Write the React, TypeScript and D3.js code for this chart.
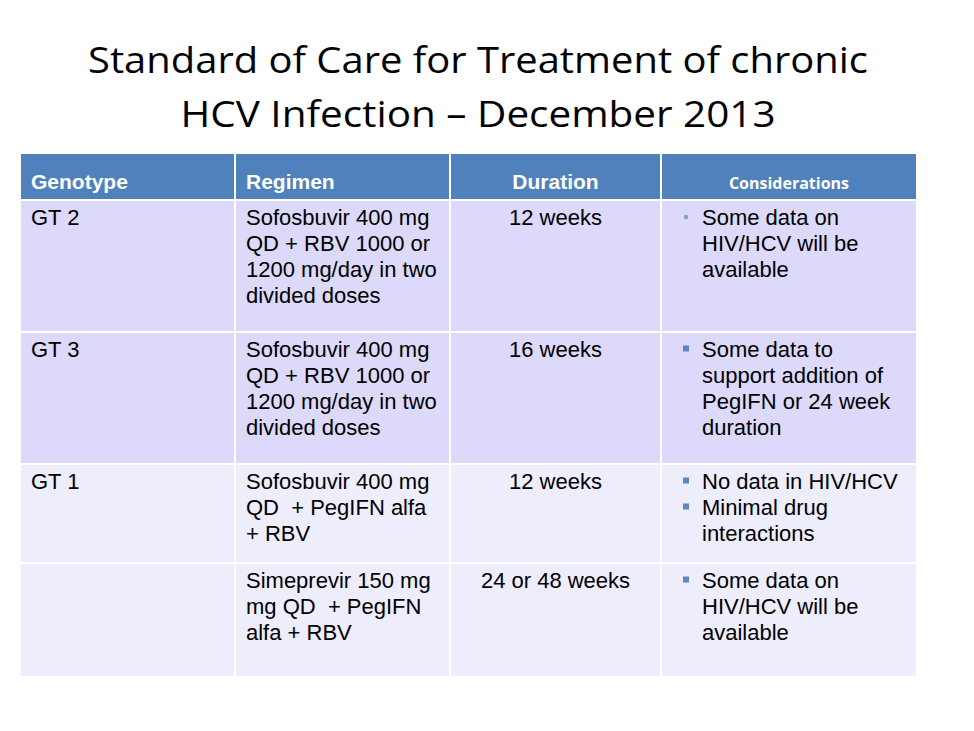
import * as d3 from "d3";

// table content
const headers = ["Genotype", "Regimen", "Duration", "Considerations"];
const genotypes = ["GT 2", "GT 3", "GT 1", ""];
const regimens = [
  ["Sofosbuvir 400 mg", "QD + RBV 1000 or", "1200 mg/day in two", "divided doses"],
  ["Sofosbuvir 400 mg", "QD + RBV 1000 or", "1200 mg/day in two", "divided doses"],
  ["Sofosbuvir 400 mg", "QD  + PegIFN alfa", "+ RBV"],
  ["Simeprevir 150 mg", "mg QD  + PegIFN", "alfa + RBV"],
];
const durations = ["12 weeks", "16 weeks", "12 weeks", "24 or 48 weeks"];
const considerations = [
  [["Some data on", "HIV/HCV will be", "available"]],
  [["Some data to", "support addition of", "PegIFN or 24 week", "duration"]],
  [["No data in HIV/HCV"], ["Minimal drug", "interactions"]],
  [["Some data on", "HIV/HCV will be", "available"]],
];
const bulletKinds = ["dot", "square", "square", "square"];
const titleLines = ["Standard of Care for Treatment of chronic", "HCV Infection – December 2013"];
const titleWidths = [780, 595];

const W = 974, H = 731;
const colEdges = [21, 235, 450, 661, 916];
const headerTop = 154, headerH = 45;
const rowHeights = [130, 130, 97, 112];
const gap = 2;
const lineH = 26;

const bodyFont = "Liberation Sans, Arial, Helvetica, sans-serif";
const titleFont = "Open Sans, Lato, sans-serif";

export default function App() {
  const rowTops: number[] = [];
  let y = headerTop + headerH + gap;
  rowHeights.forEach((h) => { rowTops.push(y); y += h + gap; });

  const lineY = d3.scaleLinear().domain([0, 1]).range([24, 24 + lineH]);
  const rowFill = (i: number) => (i < 2 ? "#dcd9fa" : "#eeedfc");

  return (
    <svg width={W} height={H} style={{ position: "absolute", left: 0, top: 0, fontVariantLigatures: "none" }}>
      <rect width={W} height={H} fill="#fff" />
      {titleLines.map((t, i) => (
        <text
          key={i}
          x={478 - titleWidths[i] / 2}
          y={73 + i * 54}
          textLength={titleWidths[i]}
          lengthAdjust="spacingAndGlyphs"
          style={{ fontFamily: titleFont, fontSize: 37 }}
          fill="#000"
        >
          {t}
        </text>
      ))}

      {/* header */}
      {headers.map((h, c) => {
        const x0 = colEdges[c] + (c === 0 ? 0 : 1);
        const x1 = colEdges[c + 1] - (c === headers.length - 1 ? 0 : 1);
        const center = c >= 2;
        return (
          <g key={h}>
            <rect x={x0} y={headerTop} width={x1 - x0} height={headerH} fill="#4f81bd" />
            <text
              x={center ? (x0 + x1) / 2 : x0 + 10}
              y={headerTop + 35}
              textAnchor={center ? "middle" : "start"}
              style={{
                fontFamily: c === 3 ? "Open Sans, Lato, sans-serif" : bodyFont,
                fontWeight: "bold",
                fontSize: c === 3 ? 16 : 21,
              }}
              fill="#fff"
            >
              {h}
            </text>
          </g>
        );
      })}

      {/* body */}
      {rowTops.map((top, r) => (
        <g key={r} style={{ fontFamily: bodyFont, fontSize: 22 }} fill="#000">
          {colEdges.slice(0, -1).map((e, c) => {
            const x0 = e + (c === 0 ? 0 : 1);
            const x1 = colEdges[c + 1] - (c === 3 ? 0 : 1);
            return <rect key={c} x={x0} y={top} width={x1 - x0} height={rowHeights[r]} fill={rowFill(r)} />;
          })}
          <text x={colEdges[0] + 10} y={top + lineY(0)}>{genotypes[r]}</text>
          {regimens[r].map((l, i) => (
            <text key={i} x={colEdges[1] + 11} y={top + lineY(i)} xmlSpace="preserve">{l}</text>
          ))}
          <text x={(colEdges[2] + colEdges[3]) / 2} y={top + lineY(0)} textAnchor="middle">{durations[r]}</text>
          {(() => {
            let li = 0;
            return considerations[r].map((item, k) => {
              const start = li;
              li += item.length;
              const by = top + lineY(start) - 8;
              return (
                <g key={k}>
                  {bulletKinds[r] === "dot" ? (
                    <circle cx={colEdges[3] + 25} cy={by} r={2.2} fill="#7f9fc8" />
                  ) : (
                    <rect x={colEdges[3] + 22} y={by - 3.5} width={6} height={6} fill="#5b86c2" />
                  )}
                  {item.map((l, i) => (
                    <text key={i} x={colEdges[3] + 41} y={top + lineY(start + i)}>{l}</text>
                  ))}
                </g>
              );
            });
          })()}
        </g>
      ))}
    </svg>
  );
}
